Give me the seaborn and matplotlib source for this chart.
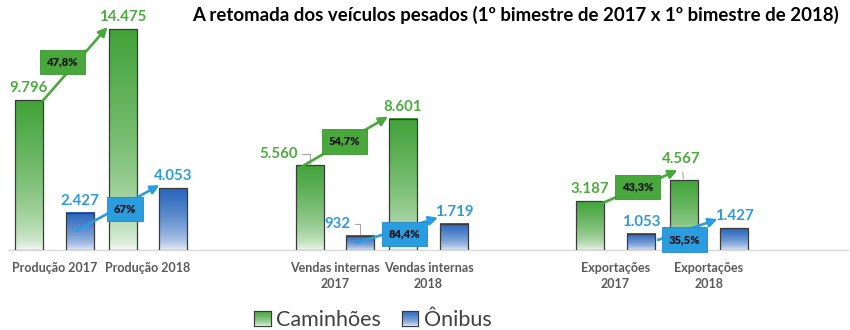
import numpy as np
import pandas as pd
import matplotlib
matplotlib.use("Agg")
import matplotlib.pyplot as plt
import seaborn as sns
from matplotlib.colors import to_rgb
from matplotlib.patches import Patch

# ---- data -------------------------------------------------------------
categorias = ["Produção 2017", "Produção 2018",
              "Vendas internas\n2017", "Vendas internas\n2018",
              "Exportações\n2017", "Exportações\n2018"]
caminhoes = [9796, 14475, 5560, 8601, 3187, 4567]
onibus = [2427, 4053, 932, 1719, 1053, 1427]
var_caminhoes = ["47,8%", "54,7%", "43,3%"]
var_onibus = ["67%", "84,4%", "35,5%"]
series = ["Caminhões", "Ônibus"]
titulo = "A retomada dos veículos pesados (1º bimestre de 2017 x 1º bimestre de 2018)"

# ---- style ------------------------------------------------------------
sns.set_style("white")
plt.rcParams["font.family"] = ["Lato", "DejaVu Sans"]

VERDE_BARRA = "#42a339"
AZUL_BARRA = "#2865bd"
VERDE_TXT = "#4cab3e"
AZUL_TXT = "#2e9bd9"
VERDE_CX = "#49a83c"
AZUL_CX = "#2a9ce0"
CINZA = "#595959"

W, H, DPI = 850, 330, 100
fig = plt.figure(figsize=(W / DPI, H / DPI), dpi=DPI)

# axes geometry in pixels
ax_left, ax_right, ax_base = 8, 848, 250
slot_px, first_px = 93.5, 54.5
px_per_unit = 221 / 14475
ymax = 16000
ax_h = ymax * px_per_unit
ax = fig.add_axes([ax_left / W, (H - ax_base) / H,
                   (ax_right - ax_left) / W, ax_h / H])

# two blank slots separate the three groups
sep = [" ", "  "]
ordem = categorias[:2] + [sep[0]] + categorias[2:4] + [sep[1]] + categorias[4:]

df = pd.DataFrame({
    "categoria": categorias * 2,
    "valor": caminhoes + onibus,
    "serie": [series[0]] * len(categorias) + [series[1]] * len(categorias),
})

sns.barplot(data=df, x="categoria", y="valor", hue="serie", order=ordem,
            hue_order=series, palette=[VERDE_BARRA, AZUL_BARRA],
            width=1.09, gap=0.45, saturation=1, errorbar=None,
            legend=False, ax=ax)

xlim = ((ax_left - first_px) / slot_px, (ax_right - first_px) / slot_px)
ax.set_xlim(*xlim)
ax.set_ylim(0, ymax)

# ---- gradient fill inside each bar -------------------------------------
def gradiente(cor, n=256):
    c = np.array(to_rgb(cor))
    frac = np.linspace(0, 1, n)
    s = np.sqrt(frac)[:, None]
    rgb = (1 - s) * np.ones(3) + s * c
    return rgb[:, None, :]

barras = {}
for p in list(ax.patches):
    x0, w, h = p.get_x(), p.get_width(), p.get_height()
    if h <= 0:
        continue
    cor = VERDE_BARRA if np.allclose(p.get_facecolor()[:3], to_rgb(VERDE_BARRA)) else AZUL_BARRA
    ax.imshow(gradiente(cor), extent=[x0, x0 + w, 0, h], origin="lower",
              aspect="auto", zorder=2, interpolation="bilinear")
    p.set_facecolor("none")
    p.set_edgecolor("#3b3b3b")
    p.set_linewidth(0.9)
    p.set_zorder(3)
    barras[(cor, round(x0 + w / 2, 3))] = p

ax.set_xlim(*xlim)
ax.set_ylim(0, ymax)

# bar lookup by (series, category index)
def barra(serie_idx, cat_idx):
    pos = ordem.index(categorias[cat_idx])
    cor = VERDE_BARRA if serie_idx == 0 else AZUL_BARRA
    cands = [p for (c, cx), p in barras.items() if c == cor and abs(cx - pos) < 0.5]
    return cands[0]

def topo_px(p):
    cx = p.get_x() + p.get_width() / 2
    return ax.transData.transform((cx, p.get_height()))

# ---- axes cosmetics ------------------------------------------------------
for s in ["left", "right", "top"]:
    ax.spines[s].set_visible(False)
ax.spines["bottom"].set_color("#d9d9d9")
ax.spines["bottom"].set_linewidth(1.0)
ax.set_yticks([])
ax.set_xlabel("")
ax.set_ylabel("")
ax.set_xticks(range(len(ordem)))
ax.set_xticklabels(ordem, fontsize=9, fontweight="bold", color=CINZA,
                   linespacing=1.3)
ax.tick_params(axis="x", length=0, pad=9)

# ---- value labels --------------------------------------------------------
# offsets in pixels (dx, dy from bar top centre to text baseline), leader style
ajustes = {
    (0, 2): (-31, 7, "angle"),
    (1, 2): (-23, 8, "angle"),
    (0, 5): (-2, 17, "reta"),
}
valores = [caminhoes, onibus]
cores_txt = [VERDE_TXT, AZUL_TXT]
for si in range(2):
    for ci in range(len(categorias)):
        p = barra(si, ci)
        tx, ty = topo_px(p)
        dx, dy, lider = ajustes.get((si, ci), (0, 8, None))
        rotulo = f"{valores[si][ci]:,}".replace(",", ".")
        kw = {}
        if lider == "angle":
            kw["arrowprops"] = dict(arrowstyle="-", color="#a6a6a6", lw=0.8,
                                    shrinkA=1, shrinkB=1,
                                    connectionstyle="angle,angleA=0,angleB=90,rad=0")
        elif lider == "reta":
            kw["arrowprops"] = dict(arrowstyle="-", color="#a6a6a6", lw=0.8,
                                    shrinkA=2, shrinkB=1)
        ax.annotate(rotulo, xy=(tx, ty), xycoords="figure pixels",
                    xytext=(tx + dx, ty + dy), textcoords="figure pixels",
                    ha="center", va="baseline", fontsize=10.8,
                    fontweight="bold", color=cores_txt[si], zorder=6, **kw)

# ---- growth arrows with percentage boxes ----------------------------------
# (start dx, start dy, end dx, end dy, box dx, box dy) in pixels, relative to
# the 2017 / 2018 bar top centres and to the arrow midpoint
setas = {
    (0, 0): (14, 0, -15, 2, -13, 2),
    (1, 0): (-4, -18, -14, 3, 7, -1),
    (0, 1): (-7, -1, -15, 2, -1, 0),
    (1, 1): (-4, -7, -16, 6, 7, -4),
    (0, 2): (12, -2, -6, 10, -2, 0),
    (1, 2): (17, -6, -17, 9, -3, -10),
}
variacoes = [var_caminhoes, var_onibus]
cores_seta = [VERDE_CX, AZUL_CX]
bordas_cx = ["#3d9132", "#2487c6"]
for (si, gi), (sx, sy, ex, ey, bx, by) in setas.items():
    p17 = barra(si, 2 * gi)
    p18 = barra(si, 2 * gi + 1)
    ax17, ay17 = topo_px(p17)
    ax18, ay18 = topo_px(p18)
    ini = (ax17 + sx, ay17 + sy)
    fim = (ax18 + ex, ay18 + ey)
    ax.annotate("", xy=fim, xycoords="figure pixels",
                xytext=ini, textcoords="figure pixels",
                arrowprops=dict(arrowstyle="-|>", color=cores_seta[si], lw=1.9,
                                mutation_scale=13, shrinkA=0, shrinkB=0),
                zorder=7)
    mx = (ini[0] + fim[0]) / 2 + bx
    my = (ini[1] + fim[1]) / 2 + by
    ax.annotate(variacoes[si][gi], xy=(mx, my), xycoords="figure pixels",
                ha="center", va="center", fontsize=8, fontweight="heavy",
                color="#111111", zorder=8,
                bbox=dict(boxstyle="square,pad=0.6", fc=cores_seta[si],
                          ec=bordas_cx[si], lw=0.6))

# ---- title ---------------------------------------------------------------
fig.text(515 / W, 1 - 15 / H, titulo, ha="center", va="center",
         fontsize=13.4, fontweight="bold", color="black")

# ---- legend with gradient swatches -------------------------------------
alcas = [Patch(facecolor="white", edgecolor="#3b3b3b", lw=0.8, label=s)
         for s in series]
leg = fig.legend(handles=alcas, loc="center", bbox_to_anchor=(373 / W, 10 / H),
                 ncol=2, frameon=False, fontsize=15.5, labelcolor="#404040",
                 handlelength=0.75, handleheight=0.75, handletextpad=0.25,
                 columnspacing=1.0)

fig.canvas.draw()
for patch, cor in zip(leg.get_patches(), [VERDE_BARRA, AZUL_BARRA]):
    bb = patch.get_window_extent(fig.canvas.get_renderer())
    (x0, y0), (x1, y1) = fig.transFigure.inverted().transform(bb.get_points())
    sw = fig.add_axes([x0, y0, x1 - x0, y1 - y0], zorder=10)
    sw.imshow(gradiente(cor), origin="lower", aspect="auto",
              extent=[0, 1, 0, 1], interpolation="bilinear")
    sw.set_xticks([])
    sw.set_yticks([])
    for s in sw.spines.values():
        s.set_color("#3b3b3b")
        s.set_linewidth(0.8)

fig.savefig("out.png", dpi=DPI)
